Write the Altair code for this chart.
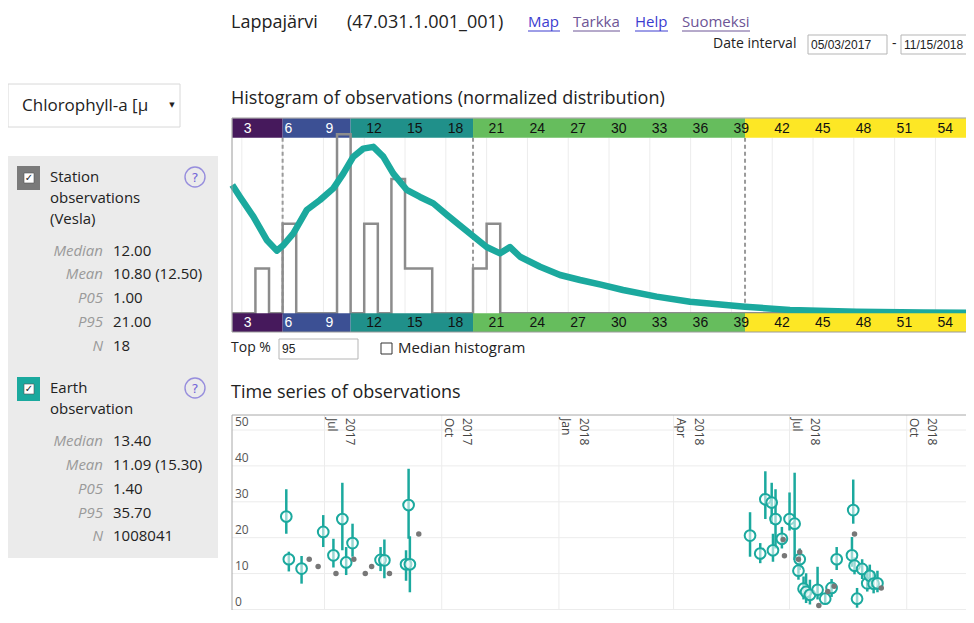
import altair as alt
import pandas as pd

# ---------------- data ----------------
# station observations histogram (integer bins, left edge / count)
hist_bin_left = [4, 6, 10, 12, 14, 15, 16, 20, 21]
hist_bin_count = [1, 2, 4, 2, 3, 1, 1, 1, 2]

# earth observation distribution (normalized)
eo_dist_x = [2.30, 2.87, 3.85, 4.83, 5.57, 6.05, 6.79, 7.77, 8.75, 9.73, 10.46, 11.20,
             11.93, 12.67, 13.40, 14.14, 15.12, 16.10, 17.08, 18.07, 19.04, 20.02, 21.00,
             21.99, 22.72, 23.46, 24.93, 26.40, 27.87, 29.40, 31.03, 33.50, 35.96, 40.00,
             43.30, 48.20, 53.10, 56.80]
eo_dist_y = [0.717, 0.650, 0.540, 0.410, 0.350, 0.380, 0.447, 0.577, 0.633, 0.698, 0.780, 0.875,
             0.920, 0.930, 0.875, 0.780, 0.690, 0.650, 0.614, 0.550, 0.490, 0.430, 0.370,
             0.335, 0.370, 0.316, 0.260, 0.214, 0.186, 0.160, 0.130, 0.093, 0.065, 0.037,
             0.018, 0.009, 0.005, 0.003]

class_edges = [2.3, 6, 11, 20, 40, 56.8]
class_colors = ["#46195c", "#3c5094", "#20908a", "#66bd5d", "#fde725"]
class_ticks = [3, 6, 9, 12, 15, 18, 21, 24, 27, 30, 33, 36, 39, 42, 45, 48, 51, 54]
dashed_at = [6, 20, 40]

# time series: earth observation (value, low, high)
eo_date = ["2017-06-01", "2017-06-03", "2017-06-13", "2017-06-30", "2017-07-08", "2017-07-15",
           "2017-07-18", "2017-07-23", "2017-08-14", "2017-08-17", "2017-09-03", "2017-09-05",
           "2017-09-06",
           "2018-05-31", "2018-06-08", "2018-06-12", "2018-06-17", "2018-06-18", "2018-06-20",
           "2018-06-25", "2018-07-01", "2018-07-05", "2018-07-08", "2018-07-09", "2018-07-12",
           "2018-07-14", "2018-07-17", "2018-07-23", "2018-07-29", "2018-08-03", "2018-08-07",
           "2018-08-19", "2018-08-20", "2018-08-21", "2018-08-23", "2018-08-27", "2018-08-31",
           "2018-09-02", "2018-09-05", "2018-09-08"]
eo_val = [25.9, 14.0, 11.4, 21.6, 15.1, 25.2, 13.1, 18.5, 13.8, 13.7, 12.6, 29.1, 12.6,
          20.6, 15.6, 30.7, 29.8, 16.5, 25.2, 19.7, 25.2, 23.9, 10.8, 14.0, 5.8,
          4.9, 4.1, 5.5, 3.0, 6.0, 14.0, 15.1, 27.7, 12.2, 3.0, 11.3, 7.3,
          9.4, 7.2, 7.3]
eo_lo = [21.1, 10.6, 7.2, 17.4, 11.7, 16.5, 9.6, 14.7, 10.7, 8.7, 8.0, 19.7, 4.8,
         14.7, 12.9, 25.2, 23.9, 13.3, 17.0, 17.0, 22.0, 13.8, 8.3, 11.0, 2.8,
         1.8, 1.4, 2.8, 1.8, 3.5, 11.0, 11.9, 23.9, 9.8, 0.5, 8.5, 5.0,
         6.0, 4.5, 4.8]
eo_hi = [33.5, 16.1, 14.9, 26.3, 19.7, 35.3, 17.4, 23.9, 17.4, 19.5, 16.5, 39.2, 20.4,
         27.1, 18.5, 38.5, 35.3, 21.1, 33.5, 23.0, 32.6, 38.1, 12.9, 17.0, 9.2,
         10.1, 8.3, 11.9, 4.5, 8.5, 17.4, 20.2, 36.2, 14.5, 6.0, 14.0, 11.5,
         12.5, 10.5, 10.8]

# time series: station observations
st_date = ["2017-06-19", "2017-06-26", "2017-07-10", "2017-07-24", "2017-08-02", "2017-08-07",
           "2017-08-21", "2017-09-13",
           "2018-06-26", "2018-06-27", "2018-07-08", "2018-07-09", "2018-07-24", "2018-07-31",
           "2018-08-05", "2018-08-21", "2018-09-11"]
st_val = [14.0, 12.0, 10.0, 14.0, 10.0, 12.0, 10.0, 21.0,
          19.5, 15.0, 14.0, 16.0, 1.1, 5.0, 6.5, 21.0, 6.0]

ts_ticks = ["2017-07-01", "2017-10-01", "2018-01-01", "2018-04-01", "2018-07-01", "2018-10-01"]
ts_tick_month = ["Jul", "Oct", "Jan", "Apr", "Jul", "Oct"]
ts_tick_year = ["2017", "2017", "2018", "2018", "2018", "2018"]
ts_y_ticks = [0, 10, 20, 30, 40, 50]

stat_names = ["Median", "Mean", "P05", "P95", "N"]
st_stats = ["12.00", "10.80 (12.50)", "1.00", "21.00", "18"]
eo_stats = ["13.40", "11.09 (15.30)", "1.40", "35.70", "1008041"]

# ---------------- layout ----------------
W, H = 958, 602
TEAL = "#1ba99e"


def sx(p):
    return p - 8


PX = alt.Scale(domain=[8, 8 + W], range=[0, W], nice=False, zero=False)
PY = alt.Scale(domain=[8, 8 + H], range=[0, H], nice=False, zero=False)

HX = alt.Scale(domain=[2.3, 56.8], range=[sx(232.3), sx(973.5)], nice=False, zero=False)
HYC = alt.Scale(domain=[0, 4], range=[sx(313.3), sx(134.3)], nice=False, zero=False)
HYN = alt.Scale(domain=[0, 1], range=[sx(313.3), sx(134.3)], nice=False, zero=False)

TX = alt.Scale(domain=[alt.DateTime(year=2017, month=4, date=19),
                       alt.DateTime(year=2018, month=11, date=22)],
               range=[sx(231.5), sx(973)], nice=False)
TY = alt.Scale(domain=[0, 50], range=[sx(609.5), sx(430)], nice=False, zero=False)


def ui_text(rows, align="left", font="Open Sans", style="normal", weight="normal", baseline="middle"):
    df = pd.DataFrame(rows, columns=["t", "x", "y", "s", "c"])
    return alt.Chart(df).mark_text(align=align, baseline=baseline, font=font,
                                   fontStyle=style, fontWeight=weight).encode(
        x=alt.X("x:Q", scale=PX, axis=None),
        y=alt.Y("y:Q", scale=PY, axis=None),
        text="t:N",
        size=alt.Size("s:Q", scale=None, legend=None),
        color=alt.Color("c:N", scale=None, legend=None),
    )


def ui_rect(rows, **mk):
    df = pd.DataFrame(rows, columns=["x", "x2", "y", "y2"])
    return alt.Chart(df).mark_rect(**mk).encode(
        x=alt.X("x:Q", scale=PX, axis=None), x2="x2:Q",
        y=alt.Y("y:Q", scale=PY, axis=None), y2="y2:Q")


layers = []

# --- sidebar and header boxes ---
layers.append(ui_rect([(8, 180, 84, 127)], fill="white", stroke="#d8d8d8", strokeWidth=1))
layers.append(ui_rect([(8, 218, 156, 558)], fill="#ebebeb"))
chk = pd.DataFrame({"x": [17, 17], "x2": [40, 40], "y": [166, 377], "y2": [190, 401],
                    "c": ["#7a7a7a", TEAL]})
layers.append(alt.Chart(chk).mark_rect().encode(
    x=alt.X("x:Q", scale=PX, axis=None), x2="x2:Q",
    y=alt.Y("y:Q", scale=PY, axis=None), y2="y2:Q",
    color=alt.Color("c:N", scale=None, legend=None)))
layers.append(ui_rect([(24, 34, 173, 183), (24, 34, 384, 394)], fill="white", stroke="#555", strokeWidth=0.6))
layers.append(ui_rect([(808, 887, 35, 54), (901, 990, 35, 54), (279, 358, 339, 359)],
                      fill="white", stroke="#b5b5b5", strokeWidth=1))
layers.append(ui_rect([(381, 392, 343, 354)], fill="white", stroke="#333", strokeWidth=1))

# question circles
qc = pd.DataFrame({"x": [195, 195], "y": [177, 388]})
layers.append(alt.Chart(qc).mark_point(shape="circle", size=400, stroke="#7467d8",
                                       strokeWidth=1.4, filled=False).encode(
    x=alt.X("x:Q", scale=PX, axis=None), y=alt.Y("y:Q", scale=PY, axis=None)))

# link underlines
ul = pd.DataFrame({"x": [528, 573, 635, 682], "x2": [560, 620, 668, 750], "y": [31, 31, 31, 31],
                   "c": ["#3c3ccf", "#6d5596", "#3c3ccf", "#6d5596"]})
layers.append(alt.Chart(ul).mark_rule(strokeWidth=1).encode(
    x=alt.X("x:Q", scale=PX, axis=None), x2="x2:Q",
    y=alt.Y("y:Q", scale=PY, axis=None),
    color=alt.Color("c:N", scale=None, legend=None)))

main_rows = [
    ("Lappajärvi", 231, 23, 18, "#222"),
    ("(47.031.1.001_001)", 347, 23, 18, "#222"),
    ("Map", 528, 22, 15, "#3c3ccf"),
    ("Tarkka", 573, 22, 15, "#6d5596"),
    ("Help", 635, 22, 15, "#3c3ccf"),
    ("Suomeksi", 682, 22, 15, "#6d5596"),
    ("Date interval", 713, 44, 14, "#222"),
    ("-", 892, 44, 14, "#222"),
    ("Chlorophyll-a [µ", 22, 106, 17, "#222"),
    ("Station", 50, 177, 15, "#222"),
    ("observations", 50, 198, 15, "#222"),
    ("(Vesla)", 50, 219, 15, "#222"),
    ("Earth", 50, 388, 15, "#222"),
    ("observation", 50, 409, 15, "#222"),
    ("Histogram of observations (normalized distribution)", 231, 99, 18, "#222"),
    ("Top %", 231, 348, 14, "#222"),
    ("Median histogram", 398, 348, 15, "#222"),
    ("Time series of observations", 231, 393, 18, "#222"),
]
st_y = [251, 274, 298, 322, 346]
eo_y = [441, 465, 489, 513, 536]
for v, yy in zip(st_stats, st_y):
    main_rows.append((v, 113, yy, 15, "#222"))
for v, yy in zip(eo_stats, eo_y):
    main_rows.append((v, 113, yy, 15, "#222"))
layers.append(ui_text(main_rows))

name_rows = [(n, 103, yy, 15, "#9a9a9a") for n, yy in zip(stat_names, st_y)] + \
            [(n, 103, yy, 15, "#9a9a9a") for n, yy in zip(stat_names, eo_y)]
layers.append(ui_text(name_rows, align="right", style="italic"))

layers.append(ui_text([("05/03/2017", 811, 45, 12, "#222"), ("11/15/2018", 904, 45, 12, "#222"),
                       ("95", 282, 349, 12, "#222")], font="Liberation Sans"))
layers.append(ui_text([("?", 195, 178, 13, "#7467d8"), ("?", 195, 389, 13, "#7467d8"),
                       ("✓", 29, 178, 10, "#222"), ("✓", 29, 389, 10, "#222"),
                       ("▼", 172, 105, 7, "#222")], align="center", font="DejaVu Sans"))

# --- histogram panel ---
bands = pd.DataFrame({"a": class_edges[:-1], "b": class_edges[1:], "c": class_colors})
grid = pd.DataFrame({"v": class_ticks})
layers.append(alt.Chart(grid).mark_rule(color="#ececec", strokeWidth=1).encode(
    x=alt.X("v:Q", scale=HX, axis=None), y=alt.value(sx(137.7)), y2=alt.value(sx(313.3))))
layers.append(alt.Chart(pd.DataFrame({"v": dashed_at})).mark_rule(
    color="#9a9a9a", strokeWidth=2, strokeDash=[4, 3]).encode(
    x=alt.X("v:Q", scale=HX, axis=None), y=alt.value(sx(137.7)), y2=alt.value(sx(313.3))))


def band_layer(y0, y1):
    return alt.Chart(bands).mark_rect().encode(
        x=alt.X("a:Q", scale=HX, axis=None), x2="b:Q",
        y=alt.value(sx(y0)), y2=alt.value(sx(y1)),
        color=alt.Color("c:N", scale=None, legend=None))


layers.append(band_layer(118.3, 137.7))

# step outline of station histogram
sx_pts, sy_pts = [class_edges[0]], [0]
for i, (l, c) in enumerate(zip(hist_bin_left, hist_bin_count)):
    sx_pts.append(l)
    sy_pts.append(c)
    nxt = hist_bin_left[i + 1] if i + 1 < len(hist_bin_left) else None
    if nxt != l + 1:
        sx_pts.append(l + 1)
        sy_pts.append(0)
sx_pts.append(class_edges[-1])
sy_pts.append(0)
step = pd.DataFrame({"x": sx_pts, "y": sy_pts, "o": range(len(sx_pts))})
layers.append(alt.Chart(step).mark_line(interpolate="step-after", color="#8c8c8c",
                                        strokeWidth=2.5).encode(
    x=alt.X("x:Q", scale=HX, axis=None), y=alt.Y("y:Q", scale=HYC, axis=None), order="o:Q"))

curve = pd.DataFrame({"x": eo_dist_x, "y": eo_dist_y})
layers.append(alt.Chart(curve).mark_line(color=TEAL, strokeWidth=6.5, strokeJoin="round").encode(
    x=alt.X("x:Q", scale=HX, axis=None), y=alt.Y("y:Q", scale=HYN, axis=None)))

layers.append(band_layer(313.3, 332))

lab = pd.DataFrame({"v": class_ticks,
                    "c": ["white" if v < 11 else "#111" for v in class_ticks]})
for yy in (128.5, 323):
    layers.append(alt.Chart(lab).mark_text(align="left", baseline="middle", dx=2,
                                           font="Liberation Sans", fontSize=14).encode(
        x=alt.X("v:Q", scale=HX, axis=None), y=alt.value(sx(yy)), text="v:Q",
        color=alt.Color("c:N", scale=None, legend=None)))

layers.append(ui_rect([(232, 990, 118, 332)], fill="white", fillOpacity=0,
                      stroke="#9a9a9a", strokeWidth=1))

# --- time series panel ---
layers.append(alt.Chart(pd.DataFrame({"v": ts_y_ticks})).mark_rule(color="#ececec", strokeWidth=1).encode(
    y=alt.Y("v:Q", scale=TY, axis=None), x=alt.value(sx(232)), x2=alt.value(W + 10)))
tt = pd.DataFrame({"d": ts_ticks,
                   "t": [y + "\n" + m for y, m in zip(ts_tick_year, ts_tick_month)]})
layers.append(alt.Chart(tt).mark_rule(color="#ececec", strokeWidth=1).encode(
    x=alt.X("d:T", scale=TX, axis=None), y=alt.value(sx(415)), y2=alt.value(H + 10)))
layers.append(ui_rect([(232, 990, 415, 640)], fill="white", fillOpacity=0,
                      stroke="#a8a8a8", strokeWidth=1))
layers.append(alt.Chart(tt).mark_text(angle=90, align="left", baseline="bottom", lineBreak="\n",
                                      lineHeight=18, fontSize=12, font="Open Sans", dy=-18,
                                      color="#444").encode(
    x=alt.X("d:T", scale=TX, axis=None), y=alt.value(sx(418)), text="t:N"))
layers.append(alt.Chart(pd.DataFrame({"v": ts_y_ticks})).mark_text(
    align="left", baseline="bottom", dy=-1, fontSize=12, font="Open Sans", color="#555").encode(
    y=alt.Y("v:Q", scale=TY, axis=None), x=alt.value(sx(235)), text="v:Q"))

eo = pd.DataFrame({"d": eo_date, "v": eo_val, "lo": eo_lo, "hi": eo_hi})
layers.append(alt.Chart(eo).mark_rule(color=TEAL, strokeWidth=2.5).encode(
    x=alt.X("d:T", scale=TX, axis=None), y=alt.Y("lo:Q", scale=TY, axis=None), y2="hi:Q"))
layers.append(alt.Chart(eo).mark_point(shape="circle", size=115, filled=True, fill="white",
                                       fillOpacity=0.55, stroke=TEAL, strokeWidth=2,
                                       opacity=1).encode(
    x=alt.X("d:T", scale=TX, axis=None), y=alt.Y("v:Q", scale=TY, axis=None)))
st = pd.DataFrame({"d": st_date, "v": st_val})
layers.append(alt.Chart(st).mark_circle(size=30, color="#777", opacity=1).encode(
    x=alt.X("d:T", scale=TX, axis=None), y=alt.Y("v:Q", scale=TY, axis=None)))

chart = alt.layer(*layers).resolve_scale(
    x="independent", y="independent", color="independent", size="independent"
).properties(
    width=W, height=H, padding=0, autosize=alt.AutoSizeParams(type="none")
).configure_view(stroke=None)

chart.save("out.html", embed_options={"renderer": "svg", "actions": False})
